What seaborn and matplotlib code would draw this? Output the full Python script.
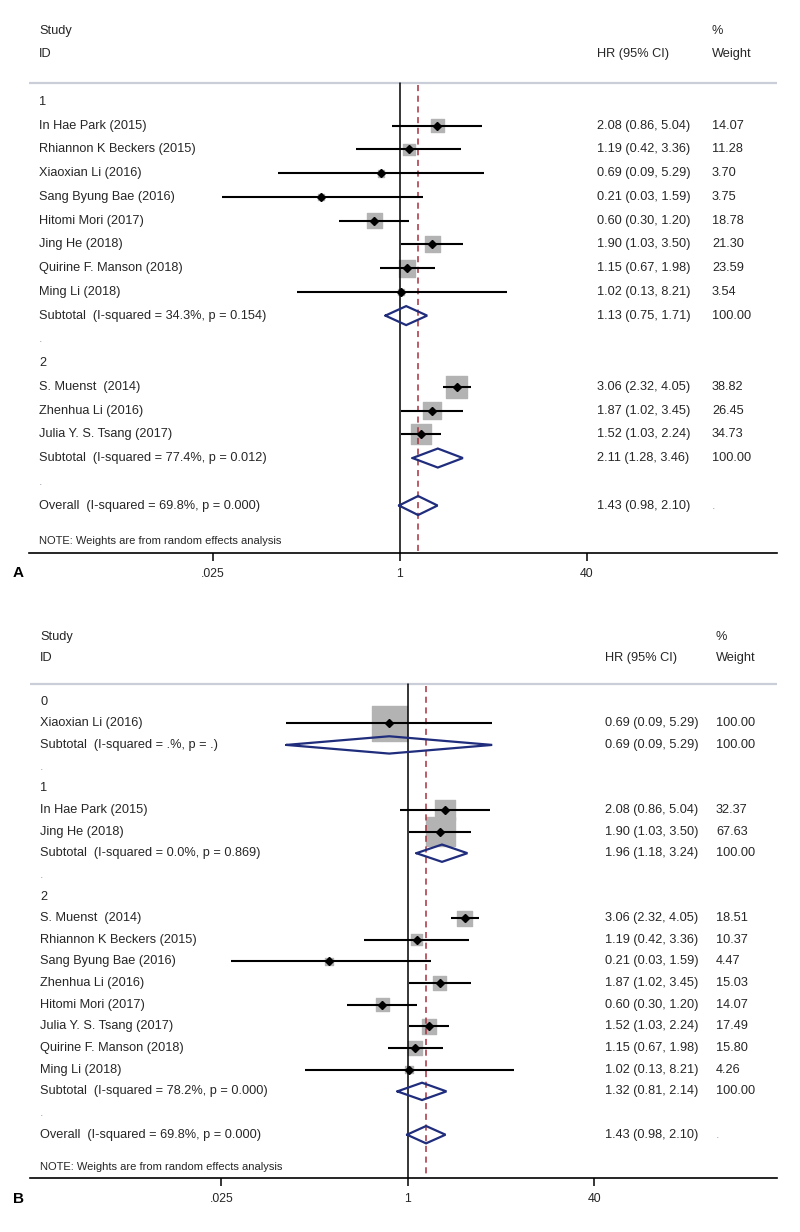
import matplotlib
matplotlib.use('Agg')
import matplotlib.pyplot as plt
import matplotlib.transforms as mtransforms
import pandas as pd
import seaborn as sns

# ---- panel A data ----
A_groups = ['1', '2']
A_study = ['In Hae Park (2015)', 'Rhiannon K Beckers (2015)', 'Xiaoxian Li (2016)',
           'Sang Byung Bae (2016)', 'Hitomi Mori (2017)', 'Jing He (2018)',
           'Quirine F. Manson (2018)', 'Ming Li (2018)',
           'S. Muenst  (2014)', 'Zhenhua Li (2016)', 'Julia Y. S. Tsang (2017)']
A_group_of = [0, 0, 0, 0, 0, 0, 0, 0, 1, 1, 1]
A_hr = [2.08, 1.19, 0.69, 0.21, 0.60, 1.90, 1.15, 1.02, 3.06, 1.87, 1.52]
A_lo = [0.86, 0.42, 0.09, 0.03, 0.30, 1.03, 0.67, 0.13, 2.32, 1.02, 1.03]
A_hi = [5.04, 3.36, 5.29, 1.59, 1.20, 3.50, 1.98, 8.21, 4.05, 3.45, 2.24]
A_weight = [14.07, 11.28, 3.70, 3.75, 18.78, 21.30, 23.59, 3.54, 38.82, 26.45, 34.73]
A_sub_text = ['Subtotal  (I-squared = 34.3%, p = 0.154)',
              'Subtotal  (I-squared = 77.4%, p = 0.012)']
A_sub_hr = [1.13, 2.11]
A_sub_lo = [0.75, 1.28]
A_sub_hi = [1.71, 3.46]
A_sub_weight = [100.00, 100.00]

# ---- panel B data ----
B_groups = ['0', '1', '2']
B_study = ['Xiaoxian Li (2016)',
           'In Hae Park (2015)', 'Jing He (2018)',
           'S. Muenst  (2014)', 'Rhiannon K Beckers (2015)', 'Sang Byung Bae (2016)',
           'Zhenhua Li (2016)', 'Hitomi Mori (2017)', 'Julia Y. S. Tsang (2017)',
           'Quirine F. Manson (2018)', 'Ming Li (2018)']
B_group_of = [0, 1, 1, 2, 2, 2, 2, 2, 2, 2, 2]
B_hr = [0.69, 2.08, 1.90, 3.06, 1.19, 0.21, 1.87, 0.60, 1.52, 1.15, 1.02]
B_lo = [0.09, 0.86, 1.03, 2.32, 0.42, 0.03, 1.02, 0.30, 1.03, 0.67, 0.13]
B_hi = [5.29, 5.04, 3.50, 4.05, 3.36, 1.59, 3.45, 1.20, 2.24, 1.98, 8.21]
B_weight = [100.00, 32.37, 67.63, 18.51, 10.37, 4.47, 15.03, 14.07, 17.49, 15.80, 4.26]
B_sub_text = ['Subtotal  (I-squared = .%, p = .)',
              'Subtotal  (I-squared = 0.0%, p = 0.869)',
              'Subtotal  (I-squared = 78.2%, p = 0.000)']
B_sub_hr = [0.69, 1.96, 1.32]
B_sub_lo = [0.09, 1.18, 0.81]
B_sub_hi = [5.29, 3.24, 2.14]
B_sub_weight = [100.00, 100.00, 100.00]

# ---- overall (same in both panels) ----
OVERALL_TEXT = 'Overall  (I-squared = 69.8%, p = 0.000)'
OVERALL_HR = 1.43
OVERALL_LO = 0.98
OVERALL_HI = 2.10

TICKS = [0.025, 1, 40]
TICK_LABELS = ['.025', '1', '40']

# ---- style ----
TXT = '#262626'
BOX_GREY = '#b3b3b3'
NAVY = '#1f2d7c'
RED = '#a8323e'
SEP = '#c9ced8'
FS = 9.2

sns.set_style('white')
plt.rcParams['font.family'] = ['Liberation Sans', 'DejaVu Sans']


def draw_panel(ax, groups, study, group_of, hr, lo, hi, wt,
               sub_text, sub_hr, sub_lo, sub_hi, sub_wt, xlim, col_x):
    # row layout: group label, studies, subtotal, '.', ..., overall
    label_rows, study_rows, sub_rows, dot_rows = [], [], [], []
    r = 0
    for g in range(len(groups)):
        label_rows.append(r)
        r += 1
        for gi in group_of:
            if gi == g:
                study_rows.append(r)
                r += 1
        sub_rows.append(r)
        r += 1
        dot_rows.append(r)
        r += 1
    overall_row = r
    bottom = overall_row + 2

    ax.set_xscale('log')
    ax.set_xlim(*xlim)
    ax.set_ylim(bottom, -4)

    # weight boxes (area ~ weight)
    df = pd.DataFrame({'hr': hr, 'row': study_rows, 'weight': wt})
    sns.scatterplot(data=df, x='hr', y='row', size='weight', sizes=(0, 620),
                    size_norm=(0, 100), marker='s', color=BOX_GREY,
                    edgecolor=BOX_GREY, linewidth=1.0,
                    legend=False, ax=ax, zorder=2)

    # reference lines
    ax.plot([1, 1], [-0.8, bottom], color='black', lw=1.1, zorder=3)
    ax.plot([OVERALL_HR, OVERALL_HR], [-0.7, bottom], color=RED, lw=1.1,
            ls=(0, (4, 3)), zorder=3)
    ax.axhline(-0.8, color=SEP, lw=1.6, zorder=1)

    # CIs and point estimates
    ax.hlines(study_rows, lo, hi, color='black', lw=1.5, zorder=4)
    ax.plot(hr, study_rows, 'D', color='black', ms=4.5, zorder=5)

    # diamonds
    dh = 0.4
    for rr, e, l, h in zip(sub_rows + [overall_row], sub_hr + [OVERALL_HR],
                           sub_lo + [OVERALL_LO], sub_hi + [OVERALL_HI]):
        ax.plot([l, e, h, e, l], [rr, rr - dh, rr, rr + dh, rr],
                color=NAVY, lw=1.6, zorder=6, solid_joinstyle='miter')

    # text columns
    tr = mtransforms.blended_transform_factory(ax.transAxes, ax.transData)
    x_id, x_hr, x_wt = col_x

    def put(x, y, s, **kw):
        ax.text(x, y, s, transform=tr, ha='left', va='center', fontsize=kw.pop('fs', FS),
                color=kw.pop('color', TXT), **kw)

    put(x_id, -3, 'Study')
    put(x_id, -2, 'ID')
    put(x_hr, -2, 'HR (95% CI)')
    put(x_wt, -3, '%')
    put(x_wt, -2, 'Weight')

    for g, rr in zip(groups, label_rows):
        put(x_id, rr, g)
    for rr, name, e, l, h, w in zip(study_rows, study, hr, lo, hi, wt):
        put(x_id, rr, name)
        put(x_hr, rr, f'{e:.2f} ({l:.2f}, {h:.2f})')
        put(x_wt, rr, f'{w:.2f}')
    for rr, t, e, l, h, w in zip(sub_rows, sub_text, sub_hr, sub_lo, sub_hi, sub_wt):
        put(x_id, rr, t)
        put(x_hr, rr, f'{e:.2f} ({l:.2f}, {h:.2f})')
        put(x_wt, rr, f'{w:.2f}')
    for rr in dot_rows:
        put(x_id, rr, '.', color='#9aa6b4')
    put(x_id, overall_row, OVERALL_TEXT)
    put(x_hr, overall_row, f'{OVERALL_HR:.2f} ({OVERALL_LO:.2f}, {OVERALL_HI:.2f})')
    put(x_wt, overall_row, '.', color='#9aa6b4')
    put(x_id, overall_row + 1.5, 'NOTE: Weights are from random effects analysis', fs=8)

    # axis
    for s in ['top', 'left', 'right']:
        ax.spines[s].set_visible(False)
    ax.spines['bottom'].set_color('black')
    ax.spines['bottom'].set_linewidth(1.2)
    ax.set_xticks(TICKS)
    ax.set_xticklabels(TICK_LABELS)
    ax.minorticks_off()
    ax.tick_params(axis='x', bottom=True, length=5.5, width=1.1, pad=5,
                   labelsize=8.8, colors=TXT)
    ax.tick_params(axis='x', color='black')
    ax.set_yticks([])
    ax.set_xlabel('')
    ax.set_ylabel('')


fig = plt.figure(figsize=(8, 12.32), dpi=100)
W, H = 800, 1232

axA = fig.add_axes([29 / W, 1 - 553 / H, 748 / W, 546 / H])
draw_panel(axA, A_groups, A_study, A_group_of, A_hr, A_lo, A_hi, A_weight,
           A_sub_text, A_sub_hr, A_sub_lo, A_sub_hi, A_sub_weight,
           xlim=(10 ** -3.179, 10 ** 3.231), col_x=(0.0134, 0.7594, 0.9131))

axB = fig.add_axes([30 / W, 1 - 1178 / H, 747 / W, 563 / H])
draw_panel(axB, B_groups, B_study, B_group_of, B_hr, B_lo, B_hi, B_weight,
           B_sub_text, B_sub_hr, B_sub_lo, B_sub_hi, B_sub_weight,
           xlim=(10 ** -3.247, 10 ** 3.170), col_x=(0.0134, 0.7697, 0.9183))

fig.text(18 / W, 1 - 573 / H, 'A', fontsize=11, fontweight='bold', color='black',
         ha='center', va='center')
fig.text(18 / W, 1 - 1199 / H, 'B', fontsize=11, fontweight='bold', color='black',
         ha='center', va='center')

fig.savefig('out.png', dpi=100, facecolor='white')
